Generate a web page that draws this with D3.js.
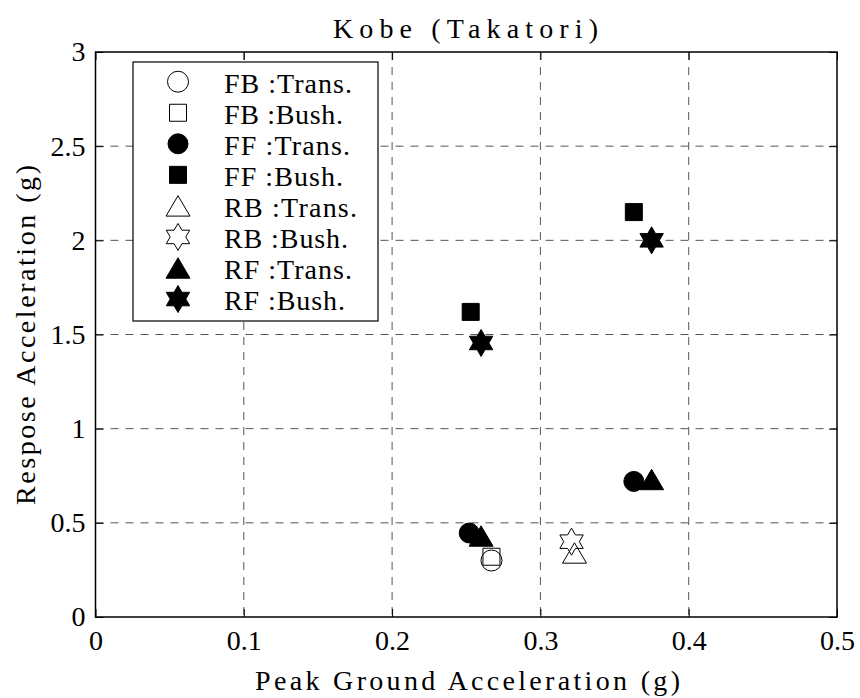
<!DOCTYPE html>
<html>
<head>
<meta charset="utf-8">
<script src="https://cdn.jsdelivr.net/npm/d3@7"></script>
<style>
  body { margin: 0; background: #fff; }
  text { font-family: "Liberation Serif", "DejaVu Serif", serif; fill: #000; }
</style>
</head>
<body>
<div id="chart"></div>
<script>
// series labels (legend order)
const seriesNames = ["FB :Trans.", "FB :Bush.", "FF :Trans.", "FF :Bush.",
                     "RB :Trans.", "RB :Bush.", "RF :Trans.", "RF :Bush."];
// marker shape + fill per series
const seriesShapes = ["circle", "square", "circle", "square",
                      "triangle", "hexagram", "triangle", "hexagram"];
const seriesFilled = [false, false, true, true, false, false, true, true];
// peak ground acceleration (g) per series
const seriesPGA = [
  [0.267], [0.267], [0.252, 0.363], [0.253, 0.363],
  [0.323], [0.321], [0.260, 0.375], [0.260, 0.375]
];
// response acceleration (g) per series
const seriesResp = [
  [0.30], [0.32], [0.446, 0.72], [1.62, 2.15],
  [0.34], [0.40], [0.43, 0.73], [1.455, 2.0]
];
const xTicks = [0, 0.1, 0.2, 0.3, 0.4, 0.5];
const yTicks = [0, 0.5, 1, 1.5, 2, 2.5, 3];

const width = 860, height = 698;
const margin = {left: 95.5, top: 52, right: 23, bottom: 81};
const iw = width - margin.left - margin.right;
const ih = height - margin.top - margin.bottom;

const svg = d3.select("#chart").append("svg")
  .attr("width", width).attr("height", height);

const g = svg.append("g")
  .attr("transform", "translate(" + margin.left + "," + margin.top + ")");

const x = d3.scaleLinear().domain([0, 0.5]).range([0, iw]);
const y = d3.scaleLinear().domain([0, 3]).range([ih, 0]);

//custom marker shapes, size = width^2
const shapes = {
  circle: {draw(ctx, size) { const r = Math.sqrt(size) / 2; ctx.moveTo(r, 0); ctx.arc(0, 0, r, 0, 2 * Math.PI); }},
  square: {draw(ctx, size) { const r = Math.sqrt(size) / 2; ctx.rect(-r, -r, 2 * r, 2 * r); }},
  triangle: {draw(ctx, size) {
    const r = Math.sqrt(size) / 2, h = r * 0.85;
    ctx.moveTo(0, -h); ctx.lineTo(r, h); ctx.lineTo(-r, h); ctx.closePath();
  }},
  hexagram: {draw(ctx, size) {
    const R = Math.sqrt(size) / 2, ri = R / Math.sqrt(3);
    for (let k = 0; k < 12; k++) {
      const a = (-90 + 30 * k) * Math.PI / 180;
      const rr = k % 2 === 0 ? R : ri;
      if (k === 0) ctx.moveTo(rr * Math.cos(a), rr * Math.sin(a));
      else ctx.lineTo(rr * Math.cos(a), rr * Math.sin(a));
    }
    ctx.closePath();
  }}
};
const shapeSize = {circle: 21, square: 17, triangle: 24, hexagram: 27};

function markerPath(shape, filled) {
  let s = shapeSize[shape];
  if (shape === "circle" && filled) s = 20;
  return d3.symbol().type(shapes[shape]).size(s * s)();
}

//grid lines
const gridColor = "#555";
g.append("g")
  .selectAll("line")
  .data(xTicks.slice(1, -1))
  .enter().append("line")
    .attr("x1", d => x(d)).attr("x2", d => x(d))
    .attr("y1", 0).attr("y2", ih)
    .attr("stroke", gridColor).attr("stroke-dasharray", "8,7");
g.append("g")
  .selectAll("line")
  .data(yTicks.slice(1, -1))
  .enter().append("line")
    .attr("y1", d => y(d)).attr("y2", d => y(d))
    .attr("x1", 0).attr("x2", iw)
    .attr("stroke", gridColor).attr("stroke-dasharray", "8,7");

//axes (ticks pointing inward)
const tickLen = 8;
const tickFont = 28;
const labelFont = 28;
g.append("g").attr("transform", "translate(0," + ih + ")")
  .call(d3.axisBottom(x).tickValues(xTicks).tickSizeInner(-tickLen).tickSizeOuter(0)
        .tickPadding(13).tickFormat(d3.format("")));
g.append("g")
  .call(d3.axisLeft(y).tickValues(yTicks).tickSizeInner(-tickLen).tickSizeOuter(0)
        .tickPadding(10).tickFormat(d3.format("")));
g.append("g")
  .call(d3.axisTop(x).tickValues(xTicks).tickSizeInner(-tickLen).tickSizeOuter(0).tickFormat(""));
g.append("g").attr("transform", "translate(" + iw + ",0)")
  .call(d3.axisRight(y).tickValues(yTicks).tickSizeInner(-tickLen).tickSizeOuter(0).tickFormat(""));

g.selectAll(".domain").remove();
g.selectAll(".tick line").attr("stroke", "#000");
g.selectAll(".tick text")
  .style("font-family", "'Liberation Serif', serif")
  .style("font-size", tickFont + "px");

//box
g.append("rect")
  .attr("width", iw).attr("height", ih)
  .attr("fill", "none").attr("stroke", "#000").attr("stroke-width", 1.5);

//data points
seriesNames.forEach(function(name, i) {
  const pts = seriesPGA[i].map((px, j) => [px, seriesResp[i][j]]);
  g.append("g")
    .selectAll("path")
    .data(pts)
    .enter().append("path")
      .attr("d", markerPath(seriesShapes[i], seriesFilled[i]))
      .attr("transform", d => "translate(" + x(d[0]) + "," + y(d[1]) + ")")
      .attr("fill", seriesFilled[i] ? "#000" : "none")
      .attr("stroke", "#000").attr("stroke-width", 1);
});

//legend
const legendWidths = [128, 119, 126, 119, 133, 124, 128, 121];
const legend = svg.append("g");
legend.append("rect")
  .attr("x", 133).attr("y", 62).attr("width", 245).attr("height", 259)
  .attr("fill", "#fff").attr("stroke", "#000").attr("stroke-width", 1.2);
seriesNames.forEach(function(name, i) {
  const cy = 81.7 + i * 31.05;
  legend.append("path")
    .attr("d", markerPath(seriesShapes[i], seriesFilled[i]))
    .attr("transform", "translate(178," + cy + ")")
    .attr("fill", seriesFilled[i] ? "#000" : "none")
    .attr("stroke", "#000");
  legend.append("text")
    .attr("x", 224).attr("y", cy + 11)
    .attr("textLength", legendWidths[i]).attr("lengthAdjust", "spacing")
    .style("font-size", labelFont + "px")
    .text(name);
});

//title and axis labels
svg.append("text")
  .attr("x", 333).attr("y", 38)
  .attr("textLength", 265).attr("lengthAdjust", "spacing")
  .style("font-size", labelFont + "px")
  .text("Kobe (Takatori)");

svg.append("text")
  .attr("x", 255).attr("y", 690)
  .attr("textLength", 425).attr("lengthAdjust", "spacing")
  .style("font-size", labelFont + "px")
  .text("Peak Ground Acceleration (g)");

svg.append("text")
  .attr("transform", "translate(35,505) rotate(-90)")
  .attr("x", 0).attr("y", 0)
  .attr("textLength", 340).attr("lengthAdjust", "spacing")
  .style("font-size", labelFont + "px")
  .text("Respose Acceleration (g)");
</script>
</body>
</html>
